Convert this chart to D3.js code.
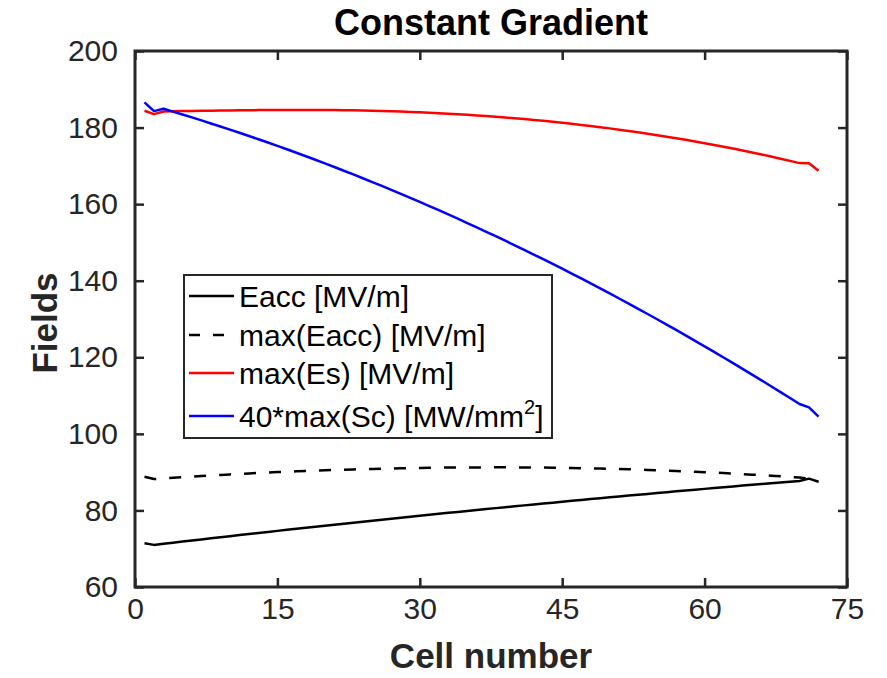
<!DOCTYPE html>
<html>
<head>
<meta charset="utf-8">
<script src="https://cdn.jsdelivr.net/npm/d3@7"></script>
<style>
  html, body { margin: 0; padding: 0; background: #ffffff; }
  svg { display: block; font-family: "Liberation Sans", Arial, Helvetica, sans-serif; }
</style>
</head>
<body>
<svg id="chart" width="887" height="678"></svg>
<script>
// ---------- data ----------
const cells = d3.range(1, 73);

const eacc = [
  71.4, 71.0, 71.29, 71.58, 71.86, 72.15, 72.43, 72.72, 73.00, 73.28,
  73.56, 73.84, 74.11, 74.39, 74.66, 74.93, 75.20, 75.47, 75.74, 76.01,
  76.28, 76.54, 76.80, 77.07, 77.33, 77.59, 77.84, 78.10, 78.36, 78.61,
  78.86, 79.12, 79.37, 79.61, 79.86, 80.11, 80.35, 80.60, 80.84, 81.08,
  81.32, 81.56, 81.80, 82.03, 82.27, 82.50, 82.73, 82.96, 83.19, 83.42,
  83.65, 83.88, 84.10, 84.32, 84.54, 84.76, 84.98, 85.20, 85.42, 85.63,
  85.85, 86.06, 86.27, 86.48, 86.69, 86.90, 87.10, 87.31, 87.51, 87.71,
  88.3, 87.5
];

const maxEacc = [
  88.8, 88.2, 88.37, 88.53, 88.69, 88.84, 88.99, 89.14, 89.27, 89.41,
  89.54, 89.66, 89.78, 89.90, 90.01, 90.11, 90.21, 90.31, 90.40, 90.49,
  90.57, 90.65, 90.72, 90.79, 90.85, 90.91, 90.97, 91.02, 91.06, 91.10,
  91.14, 91.17, 91.19, 91.21, 91.23, 91.24, 91.25, 91.25, 91.25, 91.24,
  91.23, 91.21, 91.19, 91.16, 91.12, 91.08, 91.04, 90.99, 90.94, 90.88,
  90.81, 90.74, 90.67, 90.58, 90.50, 90.41, 90.31, 90.21, 90.10, 89.99,
  89.87, 89.75, 89.63, 89.49, 89.35, 89.21, 89.06, 88.91, 88.75, 88.59,
  88.3, 87.5
];

const maxEs = [
  184.4, 183.5, 184.2, 184.25, 184.30, 184.34, 184.38, 184.42, 184.46, 184.49,
  184.51, 184.54, 184.56, 184.57, 184.58, 184.59, 184.60, 184.60, 184.60, 184.58,
  184.56, 184.53, 184.50, 184.45, 184.40, 184.33, 184.26, 184.18, 184.09, 183.99,
  183.88, 183.76, 183.63, 183.49, 183.34, 183.18, 183.01, 182.83, 182.63, 182.43,
  182.22, 181.99, 181.76, 181.51, 181.25, 180.99, 180.70, 180.41, 180.11, 179.79,
  179.46, 179.12, 178.77, 178.40, 178.02, 177.63, 177.22, 176.81, 176.37, 175.93,
  175.47, 175.00, 174.51, 174.01, 173.50, 172.97, 172.43, 171.88, 171.30, 170.72,
  170.7, 168.7
];

const sc40 = [
  186.6, 184.3, 184.9, 184.16, 183.41, 182.65, 181.87, 181.08, 180.28, 179.47,
  178.64, 177.81, 176.95, 176.09, 175.22, 174.33, 173.43, 172.51, 171.59, 170.65,
  169.70, 168.73, 167.76, 166.77, 165.77, 164.76, 163.73, 162.69, 161.64, 160.58,
  159.50, 158.41, 157.31, 156.20, 155.07, 153.93, 152.78, 151.62, 150.45, 149.26,
  148.06, 146.84, 145.62, 144.38, 143.13, 141.86, 140.59, 139.30, 138.00, 136.69,
  135.36, 134.02, 132.67, 131.31, 129.93, 128.54, 127.14, 125.73, 124.30, 122.86,
  121.41, 119.95, 118.47, 116.99, 115.48, 113.97, 112.45, 110.91, 109.36, 107.79,
  106.9, 104.5
];

const xTicks = [0, 15, 30, 45, 60, 75];
const yTicks = [60, 80, 100, 120, 140, 160, 180, 200];

const seriesNames = ["Eacc [MV/m]", "max(Eacc) [MV/m]", "max(Es) [MV/m]", "40*max(Sc) [MW/mm"];
const seriesColors = ["#000000", "#000000", "#ff0000", "#0000ff"];
const seriesDash = [null, "12,13", null, null];

const titleText = "Constant Gradient";
const xLabel = "Cell number";
const yLabel = "Fields";

// ---------- layout ----------
const svg = d3.select("#chart");
const L = 135, R = 847, T = 51, B = 587;
const axisColor = "#262626";

const x = d3.scaleLinear().domain([0, 75]).range([L, R]);
const y = d3.scaleLinear().domain([60, 200]).range([B, T]);

const tickFont = 30;

// plot lines
const seriesData = [eacc, maxEacc, maxEs, sc40];
const line = d3.line().x((d, i) => x(cells[i])).y(d => y(d));

const plot = svg.append("g");
seriesData.forEach((arr, k) => {
  plot.append("path")
    .datum(arr)
    .attr("d", line)
    .attr("fill", "none")
    .attr("stroke", seriesColors[k])
    .attr("stroke-width", 2.5)
    .attr("stroke-linejoin", "round")
    .attr("stroke-dasharray", seriesDash[k]);
});

// axes
const tickLen = 9;
const axB = d3.axisBottom(x).tickValues(xTicks).tickSizeInner(-tickLen).tickSizeOuter(0).tickPadding(11);
const axL = d3.axisLeft(y).tickValues(yTicks).tickSizeInner(-tickLen).tickSizeOuter(0).tickPadding(17);
const axT = d3.axisTop(x).tickValues(xTicks).tickSizeInner(-tickLen).tickSizeOuter(0).tickFormat("");
const axR = d3.axisRight(y).tickValues(yTicks).tickSizeInner(-tickLen).tickSizeOuter(0).tickFormat("");

function styleAxis(g) {
  g.select(".domain").remove();
  g.selectAll(".tick line").attr("stroke", axisColor).attr("stroke-width", 2.5);
  g.selectAll(".tick text").attr("fill", axisColor).style("font-size", tickFont + "px")
    .style("font-family", '"Liberation Sans", Arial, sans-serif');
}

svg.append("g").attr("transform", `translate(0,${B})`).call(axB).call(styleAxis);
svg.append("g").attr("transform", `translate(${L},0)`).call(axL).call(styleAxis);
svg.append("g").attr("transform", `translate(0,${T})`).call(axT).call(styleAxis);
svg.append("g").attr("transform", `translate(${R},0)`).call(axR).call(styleAxis);

// box
svg.append("rect")
  .attr("x", L).attr("y", T).attr("width", R - L).attr("height", B - T)
  .attr("fill", "none").attr("stroke", axisColor).attr("stroke-width", 3);

// title and labels
svg.append("text")
  .attr("x", (L + R) / 2).attr("y", 35)
  .attr("text-anchor", "middle")
  .style("font-weight", "bold").style("font-size", "36px").attr("fill", "#000")
  .text(titleText);

svg.append("text")
  .attr("x", (L + R) / 2).attr("y", 668)
  .attr("text-anchor", "middle")
  .style("font-weight", "bold").style("font-size", "35px").attr("fill", axisColor)
  .text(xLabel);

svg.append("text")
  .attr("transform", `translate(57,${(T + B) / 2 + 4}) rotate(-90)`)
  .attr("text-anchor", "middle")
  .style("font-weight", "bold").style("font-size", "35px").attr("fill", axisColor)
  .text(yLabel);

// legend
const lg = svg.append("g");
lg.append("rect")
  .attr("x", 184).attr("y", 275).attr("width", 368).attr("height", 163)
  .attr("fill", "#ffffff").attr("stroke", axisColor).attr("stroke-width", 2);

const rowY = [296, 335, 373, 416];
seriesNames.forEach((name, k) => {
  lg.append("line")
    .attr("x1", 189).attr("x2", 234)
    .attr("y1", rowY[k]).attr("y2", rowY[k])
    .attr("stroke", seriesColors[k]).attr("stroke-width", 2.5)
    .attr("stroke-dasharray", seriesDash[k] ? "11,13" : null);
  const t = lg.append("text")
    .attr("x", 239).attr("y", rowY[k] + 11)
    .style("font-size", "30px").attr("fill", "#000")
    .text(name);
  if (k === 3) {
    t.append("tspan").attr("dy", -13).style("font-size", "20px").text("2");
    t.append("tspan").attr("dy", 13).text("]");
  }
});
</script>
</body>
</html>
